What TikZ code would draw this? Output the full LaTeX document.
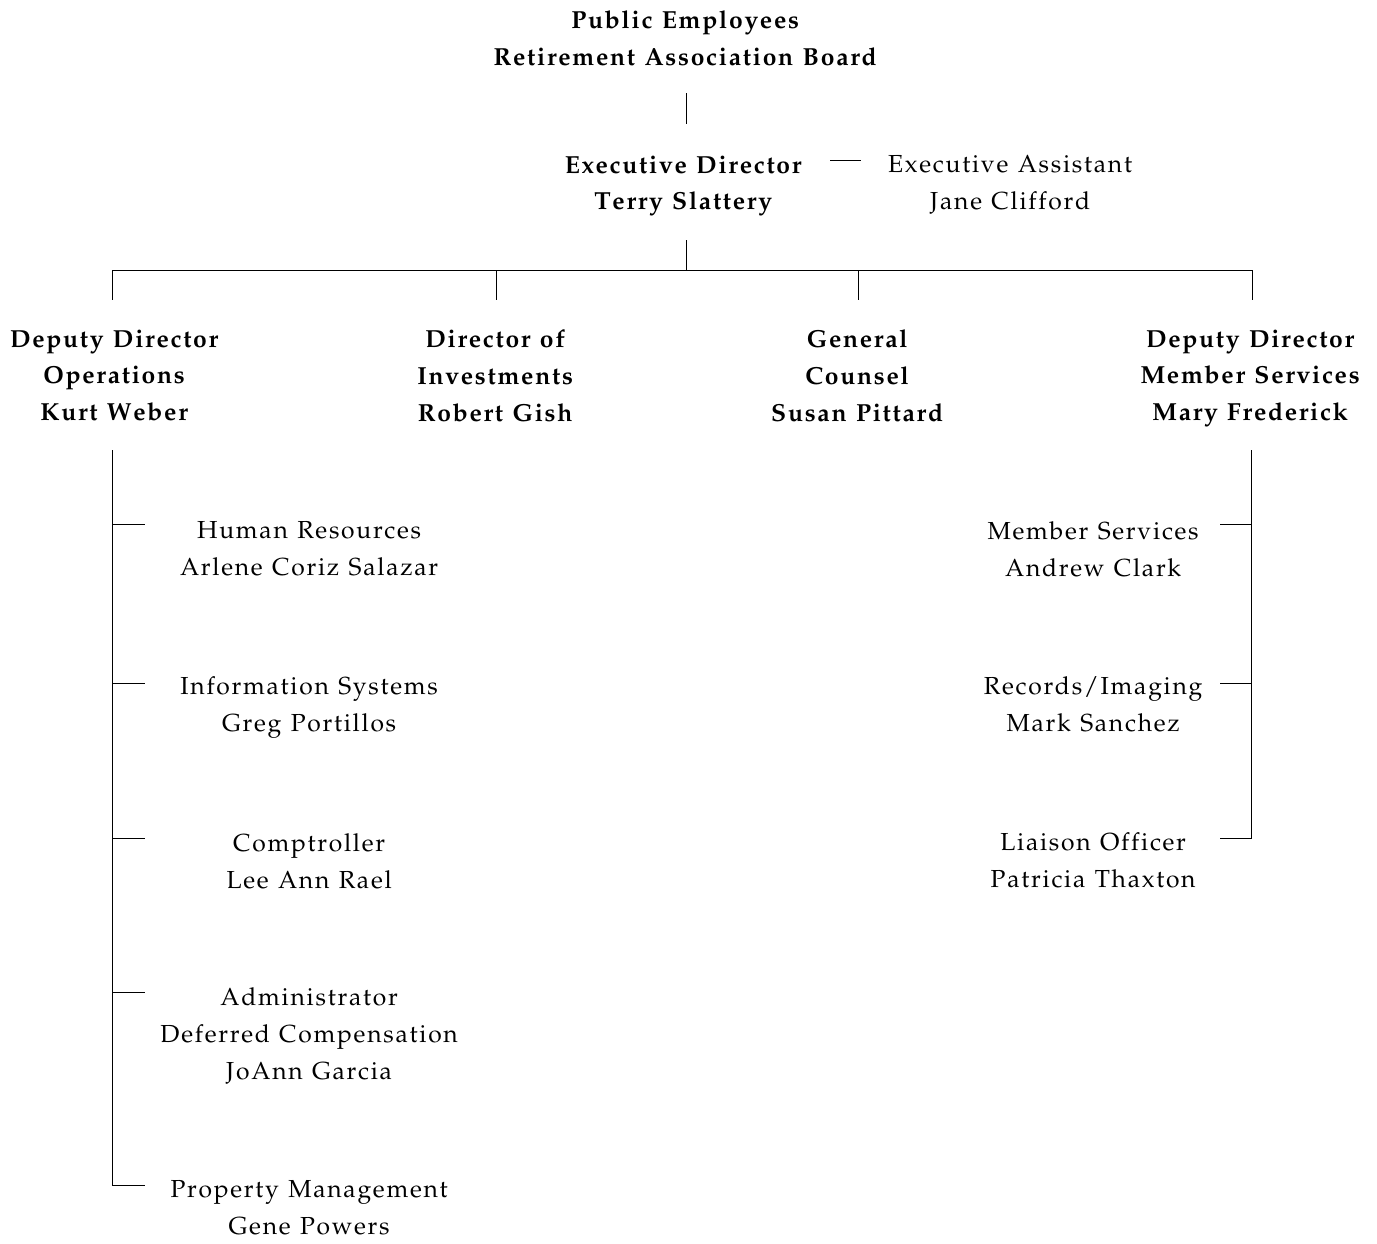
\documentclass[tikz,border=0pt]{standalone}
\usepackage[T1]{fontenc}
\usepackage{mathpazo}
\def\lspstop{}
\def\lsp#1{\lspW#1 \lspend}
\def\lspW#1 #2\lspend{\lspL#1\lspstop\ifx\relax#2\relax\else\hspace{0.31em}\lspW#2\lspend\fi}
\def\lspL#1{\ifx#1\lspstop\else#1\kern0.07em\expandafter\lspL\fi}
\begin{document}
\begin{tikzpicture}[x=0.75pt,y=-0.75pt,
  lbl/.style={align=center,inner sep=0pt,font=\fontsize{18.5}{27.7}\selectfont},
  blbl/.style={lbl,font=\fontsize{18.5}{27.7}\selectfont\bfseries},
  conn/.style={line width=0.6pt}]
\useasboundingbox (0,0) rectangle (1377,1243);
% nodes (positioned by first-line centre)
\node[blbl,anchor=north] (board) at (686,10.5) {\lsp{Public Employees}\\\lsp{Retirement Association Board}};
\node[blbl,anchor=north] (exec) at (684,155.5) {\lsp{Executive Director}\\\lsp{Terry Slattery}};
\node[lbl,anchor=north] (assist) at (1011,155.5) {\lsp{Executive Assistant}\\\lsp{Jane Clifford}};
\node[blbl,anchor=north] (ops) at (115,329.5) {\lsp{Deputy Director}\\\lsp{Operations}\\\lsp{Kurt Weber}};
\node[blbl,anchor=north] (inv) at (496,329.5) {\lsp{Director of}\\\lsp{Investments}\\\lsp{Robert Gish}};
\node[blbl,anchor=north] (gc) at (858,329.5) {\lsp{General}\\\lsp{Counsel}\\\lsp{Susan Pittard}};
\node[blbl,anchor=north] (ms) at (1251,329.5) {\lsp{Deputy Director}\\\lsp{Member Services}\\\lsp{Mary Frederick}};
\node[lbl,anchor=north] (hr) at (310,521.5) {\lsp{Human Resources}\\\lsp{Arlene Coriz Salazar}};
\node[lbl,anchor=north] (is) at (310,676.5) {\lsp{Information Systems}\\\lsp{Greg Portillos}};
\node[lbl,anchor=north] (comp) at (310,833.5) {\lsp{Comptroller}\\\lsp{Lee Ann Rael}};
\node[lbl,anchor=north] (dc) at (310,987.5) {\lsp{Administrator}\\\lsp{Deferred Compensation}\\\lsp{JoAnn Garcia}};
\node[lbl,anchor=north] (pm) at (310,1180.5) {\lsp{Property Management}\\\lsp{Gene Powers}};
\node[lbl,anchor=north] (msv) at (1094,521.5) {\lsp{Member Services}\\\lsp{Andrew Clark}};
\node[lbl,anchor=north] (rec) at (1094,676.5) {\lsp{Records/Imaging}\\\lsp{Mark Sanchez}};
\node[lbl,anchor=north] (li) at (1094,832.5) {\lsp{Liaison Officer}\\\lsp{Patricia Thaxton}};
% connectors
\coordinate (b1) at (686,93);
\coordinate (b2) at (686,124);
\draw[conn] (b1) -- (b2);
\coordinate (e1) at (686,240);
\coordinate (bus) at (686,270);
\draw[conn] (830,160) -- (861,160);
\draw[conn] (e1) -- (bus);
\draw[conn] (112,270) -- (1252,270);
\foreach \x in {112,496,858,1252} \draw[conn] (\x,270) -- (\x,300);
\draw[conn] (112,450) -- (112,1185) -- (145,1185);
\foreach \y in {524,683,838,992} \draw[conn] (112,\y) -- (145,\y);
\draw[conn] (1251,450) -- (1251,838) -- (1220,838);
\foreach \y in {524,683} \draw[conn] (1251,\y) -- (1220,\y);
\end{tikzpicture}
\end{document}
